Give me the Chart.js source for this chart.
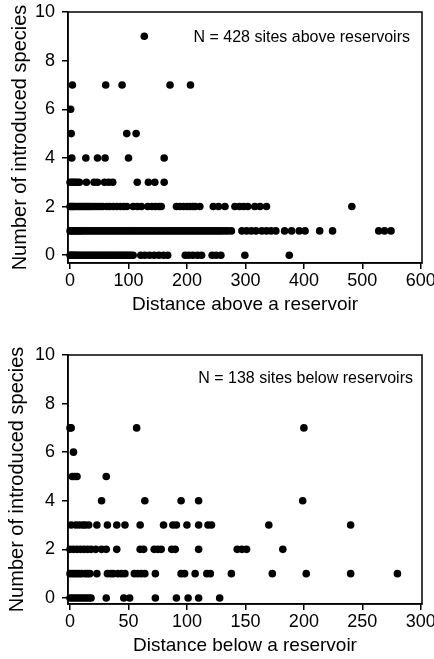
<!DOCTYPE html>
<html>
<head>
<meta charset="utf-8">
<title>Introduced species vs distance to a reservoir</title>
<script src="https://cdn.jsdelivr.net/npm/chart.js@4"></script>
<style>
    body { margin: 0; background: #fff; }
    canvas { display: block; }
</style>
</head>
<body>
<canvas id="aboveChart" width="434" height="330"></canvas>
<canvas id="belowChart" width="434" height="329"></canvas>

<script>
    // distance of each site, grouped by number of introduced species (index = count)
    const aboveDist = [
        [0, 1, 3, 5, 7, 9, 12, 14, 17, 20, 23, 26, 29, 32, 35, 38, 41, 44, 47, 50, 53, 56, 59, 62, 65, 68, 71, 74, 77, 80,
         83, 86, 89, 92, 95, 98, 101, 104, 108, 121, 128, 136, 144, 152, 160, 167, 197, 203, 210, 218, 225, 243, 250, 258, 299, 375],
        [0, 2, 5, 8, 11, 14, 17, 20, 24, 28, 32, 36, 40, 44, 48, 52, 56, 60, 64, 68, 72, 76, 80, 84, 88, 92, 96, 100, 104, 108,
         112, 116, 120, 124, 128, 132, 136, 140, 144, 148, 152, 156, 160, 164, 168, 172, 176, 180, 184, 188, 192, 196, 200, 204,
         208, 212, 216, 220, 224, 228, 232, 236, 240, 244, 248, 252, 256, 260, 265, 270, 276,
         294, 302, 310, 318, 328, 336, 344, 352, 367, 379, 392, 402, 427, 449, 528, 538, 549],
        [0, 2, 4, 6, 9, 12, 15, 18, 21, 24, 27, 30, 33, 36, 40, 44, 48, 52, 56, 63, 68, 74, 80, 86, 92, 97, 108, 115, 122,
         133, 140, 146, 152, 156, 182, 188, 194, 200, 205, 210, 214, 222, 245, 254, 265, 282, 290, 297, 304, 316, 325, 336, 482],
        [0, 3, 6, 9, 12, 16, 28, 41, 47, 59, 66, 73, 115, 134, 145, 161],
        [3, 27, 47, 60, 100, 161],
        [2, 97, 113],
        [1],
        [4, 61, 89, 171, 206],
        [],
        [127]
    ];

    const belowDist = [
        [0, 2, 4, 6, 8, 10, 12, 14, 16, 18, 31, 46, 51, 73, 91, 101, 110, 128],
        [0, 2, 4, 6, 8, 10, 13, 15, 17, 23, 32, 35, 37, 41, 44, 47, 55, 58, 61, 64, 73, 95, 98, 107, 117, 120, 138, 173, 202, 240, 280],
        [0, 3, 6, 9, 12, 15, 18, 22, 27, 31, 40, 60, 63, 72, 75, 78, 87, 90, 110, 143, 147, 151, 182],
        [1, 5, 8, 11, 13, 16, 23, 32, 40, 47, 60, 80, 88, 91, 100, 110, 118, 121, 170, 240],
        [27, 64, 95, 110, 199],
        [2, 4, 6, 31],
        [3],
        [0, 1, 57, 200]
    ];

    const aboveXTicks = [0, 100, 200, 300, 400, 500, 600];
    const belowXTicks = [0, 50, 100, 150, 200, 250, 300];
    const yTicks = [0, 2, 4, 6, 8, 10];

    const aboveNote = 'N = 428 sites above reservoirs';
    const belowNote = 'N = 138 sites below reservoirs';

    const family = '"Liberation Sans", Arial, sans-serif';

    function toPoints(rows) {
        let pts = [];
        rows.forEach((xs, count) => xs.forEach(x => pts.push({x: x, y: count})));
        return pts;
    }

    // box round the plot area + the N = ... note in the upper right corner
    function framePlugin(text, dx, dy) {
        return {
            id: 'frame',
            afterDraw(chart) {
                const ctx = chart.ctx;
                const a = chart.chartArea;
                ctx.save();
                ctx.strokeStyle = '#000';
                ctx.lineWidth = 1.5;
                ctx.strokeRect(a.left, a.top, a.right - a.left, a.bottom - a.top);
                ctx.font = '16px ' + family;
                ctx.fillStyle = '#000';
                ctx.textAlign = 'right';
                ctx.textBaseline = 'alphabetic';
                ctx.fillText(text, a.right - dx, a.top + dy);
                ctx.restore();
            }
        };
    }

    function makeChart(id, rows, o) {
        return new Chart(document.getElementById(id), {
            type: 'scatter',
            data: {
                datasets: [{
                    data: toPoints(rows),
                    backgroundColor: '#000',
                    borderColor: '#000',
                    borderWidth: 0,
                    pointRadius: 3.8,
                    pointHoverRadius: 3.8,
                    clip: false
                }]
            },
            options: {
                responsive: false,
                animation: false,
                events: [],
                layout: {padding: {left: 0, top: o.top, right: 12, bottom: 0}},
                plugins: {legend: {display: false}, tooltip: {enabled: false}},
                scales: {
                    x: {
                        type: 'linear',
                        min: o.xMin,
                        max: o.xMax,
                        afterBuildTicks: s => { s.ticks = o.xTicks.map(v => ({value: v})); },
                        afterFit: s => { s.height = o.xHeight; s.paddingLeft = 0; s.paddingRight = 0; },
                        grid: {drawOnChartArea: false, color: '#000', lineWidth: 1.5, tickLength: 6},
                        border: {color: '#000', width: 1.5},
                        ticks: {color: '#000', font: {family: family, size: 18}, padding: 1, maxRotation: 0, autoSkip: false},
                        title: {
                            display: true, text: o.xTitle, color: '#000',
                            font: {family: family, size: 19},
                            padding: {top: 0, bottom: o.xTitlePad}
                        }
                    },
                    y: {
                        type: 'linear',
                        min: o.yMin,
                        max: 10,
                        afterBuildTicks: s => { s.ticks = yTicks.map(v => ({value: v})); },
                        afterFit: s => { s.width = 68; s.paddingTop = 0; s.paddingBottom = 0; },
                        grid: {drawOnChartArea: false, color: '#000', lineWidth: 1.5, tickLength: 6},
                        border: {color: '#000', width: 1.5},
                        ticks: {color: '#000', font: {family: family, size: 18}, padding: 7, autoSkip: false},
                        title: {
                            display: true, text: 'Number of introduced species', color: '#000',
                            font: {family: family, size: 20},
                            padding: {top: o.yTitlePad, bottom: 0}
                        }
                    }
                }
            },
            plugins: [framePlugin(o.note, o.noteDx, o.noteDy)]
        });
    }

    makeChart('aboveChart', aboveDist, {
        top: 12, xHeight: 67, xMin: -3.5, xMax: 602, yMin: -0.32,
        xTicks: aboveXTicks, xTitle: 'Distance above a reservoir', xTitlePad: 14,
        yTitlePad: 8.4, note: aboveNote, noteDx: 12, noteDy: 29.7
    });

    makeChart('belowChart', belowDist, {
        top: 25, xHeight: 55, xMin: -1.7, xMax: 301, yMin: -0.25,
        xTicks: belowXTicks, xTitle: 'Distance below a reservoir', xTitlePad: 2,
        yTitlePad: 5.4, note: belowNote, noteDx: 9, noteDy: 27.7
    });
</script>
</body>
</html>
